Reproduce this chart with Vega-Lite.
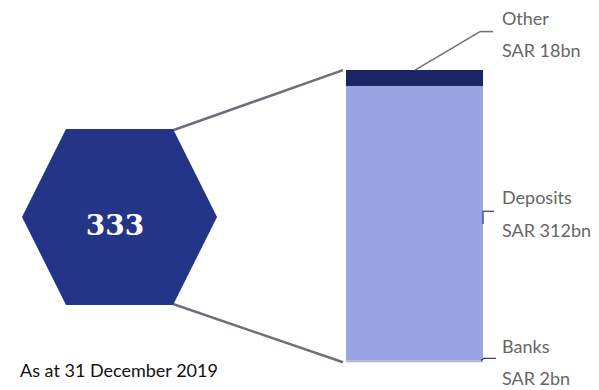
{
  "$schema": "https://vega.github.io/schema/vega-lite/v6.json",
  "width": 599,
  "height": 390,
  "padding": 0,
  "autosize": {"type": "fit", "contains": "padding"},
  "background": "white",
  "config": {"view": {"stroke": null}},
  "datasets": {
    "segments": [
      {"segment": "Banks", "value": 2, "order": 1},
      {"segment": "Deposits", "value": 312, "order": 2},
      {"segment": "Other", "value": 18, "order": 3}
    ],
    "connectors": [
      {"x": 173, "y": 263.6, "x2": 343, "y2": 332},
      {"x": 173, "y": 66.2, "x2": 343, "y2": 0}
    ],
    "otherLeader": [
      {"x": 415, "y": 332, "x2": 480, "y2": 375.7},
      {"x": 480, "y": 375.7, "x2": 493, "y2": 375.7}
    ],
    "blueLeaders": [
      {"x": 483, "y": 171.6, "x2": 483, "y2": 157},
      {"x": 483, "y": 171.6, "x2": 494, "y2": 171.6},
      {"x": 484, "y": 4.5, "x2": 496, "y2": 4.5},
      {"x": 481, "y": 2, "x2": 484, "y2": 4.5}
    ],
    "labels": [
      {"text": "Other", "x": 502, "y": 389.2},
      {"text": "SAR 18bn", "x": 502, "y": 352.2},
      {"text": "Deposits", "x": 502, "y": 185},
      {"text": "SAR 312bn", "x": 502, "y": 148},
      {"text": "Banks", "x": 502, "y": 16.8},
      {"text": "SAR 2bn", "x": 502, "y": -20.2}
    ],
    "hex": [{"x": 117, "y": 165, "total": "333"}],
    "note": [{"x": 20, "y": -11.2, "text": "As at 31 December 2019"}]
  },
  "layer": [
    {
      "data": {"name": "connectors"},
      "mark": {"type": "rule", "color": "#6e6e78", "strokeWidth": 2.5},
      "encoding": {
        "x": {"field": "x", "type": "quantitative", "scale": {"domain": [0, 599], "nice": false, "zero": false}, "axis": null},
        "y": {"field": "y", "type": "quantitative", "scale": {"domain": [-25.8, 411.6], "nice": false, "zero": false}, "axis": null},
        "x2": {"field": "x2"},
        "y2": {"field": "y2"}
      }
    },
    {
      "data": {"name": "hex"},
      "mark": {"type": "point", "filled": true, "opacity": 1, "strokeWidth": 0, "color": "#243588", "size": 38025, "shape": "M-0.974,0L-0.523,-0.903L0.575,-0.903L1.026,0L0.575,0.903L-0.523,0.903Z"},
      "encoding": {
        "x": {"field": "x", "type": "quantitative"},
        "y": {"field": "y", "type": "quantitative"}
      }
    },
    {
      "data": {"name": "segments"},
      "transform": [
        {"stack": "value", "groupby": [], "sort": [{"field": "order"}], "as": ["y0", "y1"]}
      ],
      "mark": {"type": "bar", "cornerRadius": 0},
      "encoding": {
        "x": {"datum": 346, "type": "quantitative"},
        "x2": {"datum": 483},
        "y": {"field": "y0", "type": "quantitative"},
        "y2": {"field": "y1"},
        "color": {
          "field": "segment", "type": "nominal", "legend": null,
          "scale": {"domain": ["Banks", "Deposits", "Other"], "range": ["#b4b4b4", "#99a5e3", "#1b2566"]}
        }
      }
    },
    {
      "data": {"name": "otherLeader"},
      "mark": {"type": "rule", "color": "#6e6e78", "strokeWidth": 1.5},
      "encoding": {
        "x": {"field": "x", "type": "quantitative"},
        "y": {"field": "y", "type": "quantitative"},
        "x2": {"field": "x2"},
        "y2": {"field": "y2"}
      }
    },
    {
      "data": {"name": "blueLeaders"},
      "mark": {"type": "rule", "color": "#243588", "strokeWidth": 1.2},
      "encoding": {
        "x": {"field": "x", "type": "quantitative"},
        "y": {"field": "y", "type": "quantitative"},
        "x2": {"field": "x2"},
        "y2": {"field": "y2"}
      }
    },
    {
      "data": {"name": "labels"},
      "mark": {"type": "text", "align": "left", "baseline": "middle", "font": "Lato", "fontSize": 18, "color": "#666666"},
      "encoding": {
        "x": {"field": "x", "type": "quantitative"},
        "y": {"field": "y", "type": "quantitative"},
        "text": {"field": "text"}
      }
    },
    {
      "data": {"name": "hex"},
      "mark": {"type": "text", "align": "center", "baseline": "middle", "font": "DejaVu Serif", "fontWeight": "bold", "fontSize": 28, "color": "white", "dy": 10, "dx": -2},
      "encoding": {
        "x": {"field": "x", "type": "quantitative"},
        "y": {"field": "y", "type": "quantitative"},
        "text": {"field": "total"}
      }
    },
    {
      "data": {"name": "note"},
      "mark": {"type": "text", "align": "left", "baseline": "middle", "font": "Lato", "fontSize": 18, "color": "#111111"},
      "encoding": {
        "x": {"field": "x", "type": "quantitative"},
        "y": {"field": "y", "type": "quantitative"},
        "text": {"field": "text"}
      }
    }
  ]
}
